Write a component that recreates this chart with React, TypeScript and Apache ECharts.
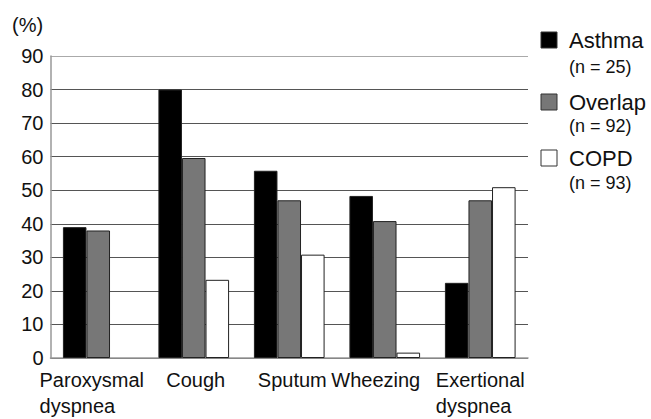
import React, { useEffect, useRef } from "react";
import * as echarts from "echarts";

const categories = ["Paroxysmal\ndyspnea", "Cough", "Sputum", "Wheezing", "Exertional\ndyspnea"];
const seriesNames = ["Asthma", "Overlap", "COPD"];
const seriesN = ["(n = 25)", "(n = 92)", "(n = 93)"];
const asthma = [39, 80, 55.8, 48.3, 22.4];
const overlap = [38, 59.6, 47, 40.8, 47];
const copd = [0, 23.3, 30.8, 1.6, 50.9];
const colors = ["#000000", "#777777", "#ffffff"];

export default function App() {
  const ref = useRef<HTMLDivElement>(null);
  useEffect(() => {
    const chart = echarts.init(ref.current!, null, { renderer: "svg" });
    const font = "'Liberation Sans', Arial, sans-serif";
    const data = [asthma, overlap, copd];
    const legendGraphics: any[] = [];
    const boxTops = [32, 94, 150];
    const nameY = [40, 102, 158];
    const nY = [67, 126, 183];
    seriesNames.forEach((name, i) => {
      legendGraphics.push({
        type: "rect",
        shape: { x: 541, y: boxTops[i], width: 16, height: 16 },
        style: { fill: colors[i], stroke: "#333", lineWidth: 1 },
      });
      legendGraphics.push({
        type: "text",
        x: 569,
        y: nameY[i],
        style: { text: name, font: `22px ${font}`, fill: "#111", verticalAlign: "middle" },
      });
      legendGraphics.push({
        type: "text",
        x: 569,
        y: nY[i],
        style: { text: seriesN[i], font: `18px ${font}`, fill: "#111", verticalAlign: "middle" },
      });
    });
    // small horizontal nudges of the category labels, as in the reference
    const labelShift = [-13, 4, 6, -18, 0];
    const xData = categories.map((c, i) => ({
      value: c,
      textStyle: {
        padding: labelShift[i] < 0 ? [0, -labelShift[i], 0, 0] : [0, 0, 0, labelShift[i]],
      },
    }));
    const splitColors = ["#555", "#555", "#555", "#555", "#555", "#555", "#555", "#555", "#555", "#aaa"];
    chart.setOption({
      animation: false,
      textStyle: { fontFamily: font },
      grid: { left: 50.5, right: 123, top: 56, bottom: 57, containLabel: false },
      xAxis: {
        type: "category",
        data: xData,
        axisLine: { lineStyle: { color: "#999", width: 1.5 } },
        axisTick: { inside: true, length: 4, lineStyle: { color: "#999" } },
        axisLabel: {
          color: "#111",
          fontSize: 20,
          lineHeight: 26,
          margin: 9,
          interval: 0,
          formatter: (v: string) =>
            v
              .split("\n")
              .map((s) => `{a|${s}}`)
              .join("\n"),
          rich: { a: { fontSize: 20, lineHeight: 26, color: "#111", align: "left" } },
        },
      },
      yAxis: {
        type: "value",
        min: 0,
        max: 90,
        interval: 10,
        axisLine: { show: true, lineStyle: { color: "#999", width: 1.5 } },
        axisTick: { show: false },
        axisLabel: { color: "#111", fontSize: 20, margin: 7 },
        splitLine: { lineStyle: { color: splitColors, width: 1 } },
      },
      series: data.map((d, i) => ({
        type: "bar",
        name: seriesNames[i],
        data: d.map((v) => (v === 0 ? { value: v, itemStyle: { borderWidth: 0 } } : v)),
        barGap: "0%",
        barCategoryGap: "26%",
        itemStyle: { color: colors[i], borderColor: "#222", borderWidth: 1 },
      })),
      graphic: [
        {
          type: "text",
          x: 12,
          y: 25,
          style: { text: "(%)", font: `20px ${font}`, fill: "#111", verticalAlign: "middle" },
        },
        ...legendGraphics,
      ],
    });
    return () => chart.dispose();
  }, []);
  return (
    <div
      ref={ref}
      style={{ width: 651, height: 419, position: "absolute", left: 0, top: 0 }}
    />
  );
}
